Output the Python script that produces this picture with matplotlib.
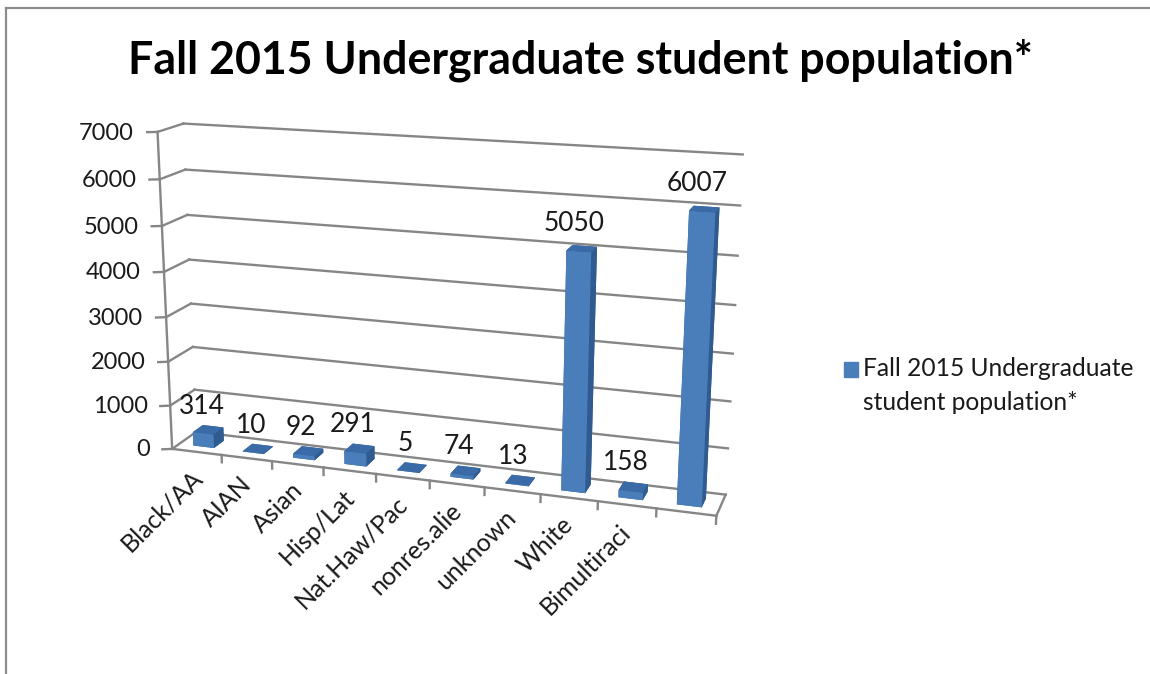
# plot.py: Fall 2015 undergraduate population, Excel style 3D column chart
import matplotlib
matplotlib.use("Agg")
import matplotlib.pyplot as plt
from matplotlib.lines import Line2D
from matplotlib.patches import Patch
from mpl_toolkits.mplot3d import proj3d

plt.rcParams['font.family'] = ['Lato', 'DejaVu Sans']

categories = ['Black/AA', 'AIAN', 'Asian', 'Hisp/Lat', 'Nat.Haw/Pac',
              'nonres.alie', 'unknown', 'White', 'Bimultiraci', '']
population = [314, 10, 92, 291, 5, 74, 13, 5050, 158, 6007]
value_ticks = [0, 1000, 2000, 3000, 4000, 5000, 6000, 7000]
series_name = 'Fall 2015 Undergraduate\nstudent population*'
title = 'Fall 2015 Undergraduate student population*'

GRAY = '#868686'
TEXT = '#1a1a1a'
# -z, +z, -y, +y, -x, +x
FACES = ['#2f5b90', '#3a6ba6', '#4a7ebb', '#2f5b90', '#2f5b90', '#2f5b90']
BAR_W = 0.42
BAR_D = 0.42

fig = plt.figure(figsize=(11.5, 6.74), dpi=100)
ax = fig.add_axes([-0.1265, 0.0245, 1.0, 1.0], projection='3d')
ax.computed_zorder = False
ax.set_proj_type('persp', focal_length=0.45)
ax.view_init(elev=15.5, azim=-71.5)
ax.set_box_aspect((571, 56, 335), zoom=0.972)
n = len(categories)
ax.set_xlim(0, n)
ax.set_ylim(0, 1)
ax.set_zlim(0, 7000)
ax.set_axis_off()


def line(xs, ys, zs):
    ax.plot(xs, ys, zs, color=GRAY, lw=1.7, zorder=1)


def text_at(x, y, z, s, size=17, **kw):
    # Text3D ignores rotation, so place the label through the projection
    px, py, _ = proj3d.proj_transform(x, y, z, ax.get_proj())
    ax.text2D(px, py, s, transform=ax.transData, color=TEXT, fontsize=size, zorder=6, **kw)


# walls and floor
for v in value_ticks:
    line([0, n], [1, 1], [v, v])
    line([0, 0], [0, 1], [v, v])
    line([-0.16, 0], [-0.08, 0], [v, v])
    text_at(-0.42, -0.08, v - 40, str(v), ha='right', va='center')
line([0, 0], [0, 0], [0, 7000])
line([0, n], [0, 0], [0, 0])
line([n, n], [0, 1], [0, 0])

# category ticks and labels
for i in range(1, n + 1):
    line([i, i], [0, 0], [0, -170])
for i, cat in enumerate(categories):
    if cat:
        text_at(i + 0.36, 0, -350, cat, size=18, ha='right', va='top', rotation=45, rotation_mode='anchor')

# bars
for i, v in enumerate(population):
    ax.bar3d(i + (1 - BAR_W) / 2, (1 - BAR_D) / 2, 0, BAR_W, BAR_D, v,
             color=FACES, shade=False, linewidth=0, zorder=3 + i * 0.01)
    text_at(i + 0.37, 0.5, v + 240, str(v), size=19, ha='center', va='bottom')

fig.text(0.505, 0.91, title, ha='center', va='center', fontsize=32.2, fontweight='bold', color='black')

leg = fig.legend(handles=[Patch(color='#4a7ebb', label=series_name)], loc='center left',
                 bbox_to_anchor=(0.7145, 0.428), frameon=False, fontsize=17.7,
                 handlelength=0.57, handleheight=0.57, handletextpad=0.2, labelcolor=TEXT)
leg.get_texts()[0].set_linespacing(1.55)
handle = leg.legend_handles[0]
handle.set_y(handle.get_y() + 12)

# frame cut off by the screenshot
fig.add_artist(Line2D([6 / 1150, 6 / 1150], [0, 1 - 8 / 674], color='#8c8c8c', lw=1.6))
fig.add_artist(Line2D([6 / 1150, 1], [1 - 8 / 674, 1 - 8 / 674], color='#8c8c8c', lw=1.6))

fig.savefig('out.png', dpi=100, facecolor='white')
